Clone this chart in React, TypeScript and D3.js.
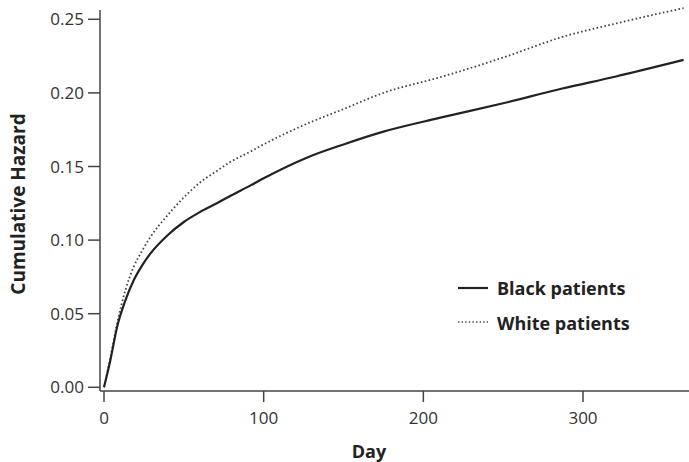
import React from "react";
import * as d3 from "d3";

const blackDays = [0, 4, 8.2, 13.4, 18.6, 24, 29, 39.5, 50, 60, 70.7, 79, 91.5, 100, 127, 150, 175, 210, 250, 287, 320, 363];
const blackVals = [0, 0.0185, 0.041, 0.059, 0.0727, 0.083, 0.0908, 0.103, 0.1123, 0.119, 0.125, 0.13, 0.137, 0.142, 0.156, 0.165, 0.1737, 0.183, 0.193, 0.203, 0.211, 0.2224];
const whiteDays = [0, 4, 8.2, 13.4, 18.6, 24, 29, 39.5, 50, 60, 70.7, 79, 91.5, 100, 127, 150, 175, 210, 250, 287, 320, 363];
const whiteVals = [0, 0.02, 0.0433, 0.066, 0.0818, 0.093, 0.102, 0.1165, 0.129, 0.139, 0.147, 0.153, 0.16, 0.165, 0.179, 0.189, 0.2, 0.2105, 0.224, 0.238, 0.247, 0.2576];
const xTicks = [0, 100, 200, 300];
const yTicks = [0, 0.05, 0.1, 0.15, 0.2, 0.25];
const seriesNames = ["Black patients", "White patients"];

const W = 689;
const H = 462;
const FONT = "'Open Sans', 'DejaVu Sans', sans-serif";

export default function App() {
  const x = d3.scaleLinear().domain([0, 366]).range([104, 688.4]);
  const y = d3.scaleLinear().domain([0, 0.25]).range([387.3, 19.3]);
  const axisX0 = 100;
  const axisY0 = 391;

  const line = d3
    .line<[number, number]>()
    .x((d) => x(d[0]))
    .y((d) => y(d[1]))
    .curve(d3.curveMonotoneX);

  const blackData = blackDays.map((d, i) => [d, blackVals[i]] as [number, number]);
  const whiteData = whiteDays.map((d, i) => [d, whiteVals[i]] as [number, number]);

  return (
    <svg width={W} height={H} style={{ position: "absolute", left: 0, top: 0, background: "#fff" }}>
      {/* series */}
      <path d={line(whiteData) || ""} fill="none" stroke="#444" strokeWidth={1.8} strokeDasharray="1.6 2.4" />
      <path d={line(blackData) || ""} fill="none" stroke="#222" strokeWidth={2.2} />

      {/* y axis */}
      <line x1={axisX0} x2={axisX0} y1={10} y2={axisY0} stroke="#444" strokeWidth={1.5} />
      {yTicks.map((t) => (
        <g key={t}>
          <line x1={88} x2={axisX0} y1={y(t)} y2={y(t)} stroke="#444" strokeWidth={1.5} />
          <text x={84} y={y(t)} dy="0.36em" textAnchor="end" fontFamily={FONT} fontSize={17} fill="#333">
            {d3.format(".2f")(t)}
          </text>
        </g>
      ))}

      {/* x axis */}
      <line x1={axisX0} x2={W} y1={axisY0} y2={axisY0} stroke="#444" strokeWidth={1.5} />
      {xTicks.map((t) => (
        <g key={t}>
          <line x1={x(t)} x2={x(t)} y1={axisY0} y2={402} stroke="#444" strokeWidth={1.5} />
          <text x={x(t)} y={424} textAnchor="middle" fontFamily={FONT} fontSize={17} fill="#333">
            {t}
          </text>
        </g>
      ))}

      {/* axis titles */}
      <text x={369} y={458} textAnchor="middle" fontFamily={FONT} fontSize={18} fontWeight="bold" fill="#222">
        Day
      </text>
      <text
        transform={`translate(25,204) rotate(-90)`}
        textAnchor="middle"
        fontFamily={FONT}
        fontSize={19}
        fontWeight="bold"
        fill="#222"
      >
        Cumulative Hazard
      </text>

      {/* legend */}
      <line x1={458} x2={488} y1={288} y2={288} stroke="#222" strokeWidth={2.2} />
      <text x={497} y={295} fontFamily={FONT} fontSize={18} fontWeight="bold" fill="#222">
        {seriesNames[0]}
      </text>
      <line x1={458} x2={488} y1={322} y2={322} stroke="#444" strokeWidth={1.4} strokeDasharray="1.4 2.2" />
      <text x={497} y={330} fontFamily={FONT} fontSize={18} fontWeight="bold" fill="#222">
        {seriesNames[1]}
      </text>
    </svg>
  );
}
